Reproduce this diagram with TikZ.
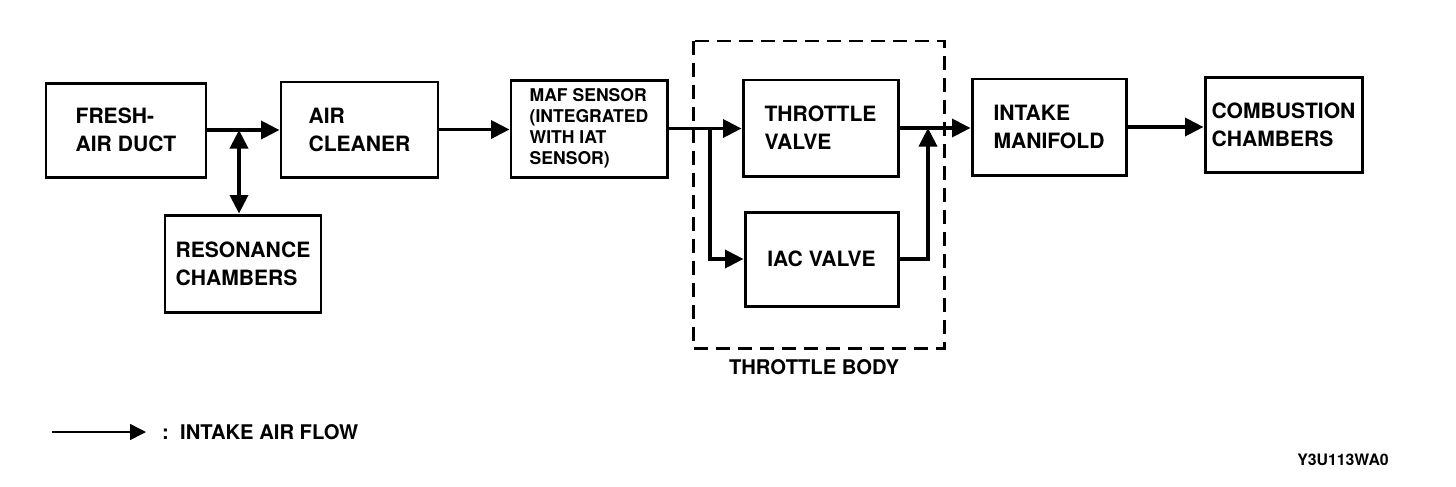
\documentclass[tikz,border=0pt]{standalone}
\usepackage{fontspec}
\setmainfont{TeX Gyre Heros}
\usetikzlibrary{arrows.meta,positioning,calc}

\begin{document}
\begin{tikzpicture}[
  >={Triangle[length=0.37cm,width=0.36cm]},
  box/.style={draw, line width=1.7pt, minimum width=3.12cm, minimum height=1.9cm, align=left, font=\fontsize{12}{16}\selectfont\bfseries},
  small/.style={font=\fontsize{10}{12}\selectfont\bfseries},
  flow/.style={->, line width=2pt},
  lbl/.style={font=\fontsize{11.5}{14}\selectfont\bfseries}
]
\useasboundingbox (0,0) rectangle (29.12,-9.72);

\node[box, minimum width=3.2cm, minimum height=1.88cm] (duct) at (2.52,-2.6) {FRESH-\\AIR DUCT};
\node[box, minimum width=3.14cm] (cleaner) at (7.19,-2.59) {AIR\\CLEANER};
\node[box, minimum height=1.94cm] (reson) at (4.86,-5.27) {RESONANCE\\CHAMBERS};
\node[box, small, minimum height=1.94cm] (maf) at (11.78,-2.57) {MAF SENSOR\\(INTEGRATED\\WITH IAT\\SENSOR)};
\node[box, minimum width=3.1cm, minimum height=1.92cm] (throttle) at (16.41,-2.56) {THROTTLE\\VALVE};
\node[box, minimum width=3.06cm, minimum height=1.88cm] (iac) at (16.43,-5.18) {IAC VALVE};
\node[box, minimum width=3.08cm, minimum height=1.92cm] (manifold) at (20.98,-2.54) {INTAKE\\MANIFOLD};
\node[box, minimum width=3.14cm] (combust) at (25.67,-2.49) {COMBUSTION\\CHAMBERS};

\draw[line width=1.7pt, dash pattern=on 0.28cm off 0.16cm] (13.86,-0.82) rectangle (18.88,-6.96);
\node[lbl] (body) at (16.28,-7.34) {THROTTLE BODY};

\coordinate (j1) at (4.78,-2.6);
\coordinate (br) at (14.2,-2.57);
\coordinate (j2) at (18.56,-2.56);

\draw[flow] (duct.east) -- (duct.east -| cleaner.west);
\draw[<->, line width=2pt] (j1) -- (j1 |- reson.north);
\draw[flow] (cleaner.east) -- (cleaner.east -| maf.west);
\draw[flow] (maf.east) -- (maf.east -| throttle.west);
\draw[flow] (br) |- (iac.west);
\draw[flow] (iac.east) -| (j2);
\draw[flow] (throttle.east) -- (throttle.east -| manifold.west);
\draw[flow] (manifold.east) -- (manifold.east -| combust.west);

\coordinate (key1) at (1.04,-8.64);
\coordinate (key2) at (2.92,-8.64);
\draw[-{Triangle[length=0.32cm,width=0.32cm]}, line width=0.9pt] (key1) -- (key2);
\node[lbl, anchor=west] (keytext) at (3.12,-8.64) {:\ \ INTAKE AIR FLOW};

\node[font=\fontsize{9}{11}\selectfont\bfseries] (code) at (26.86,-9.2) {Y3U113WA0};
\end{tikzpicture}
\end{document}
